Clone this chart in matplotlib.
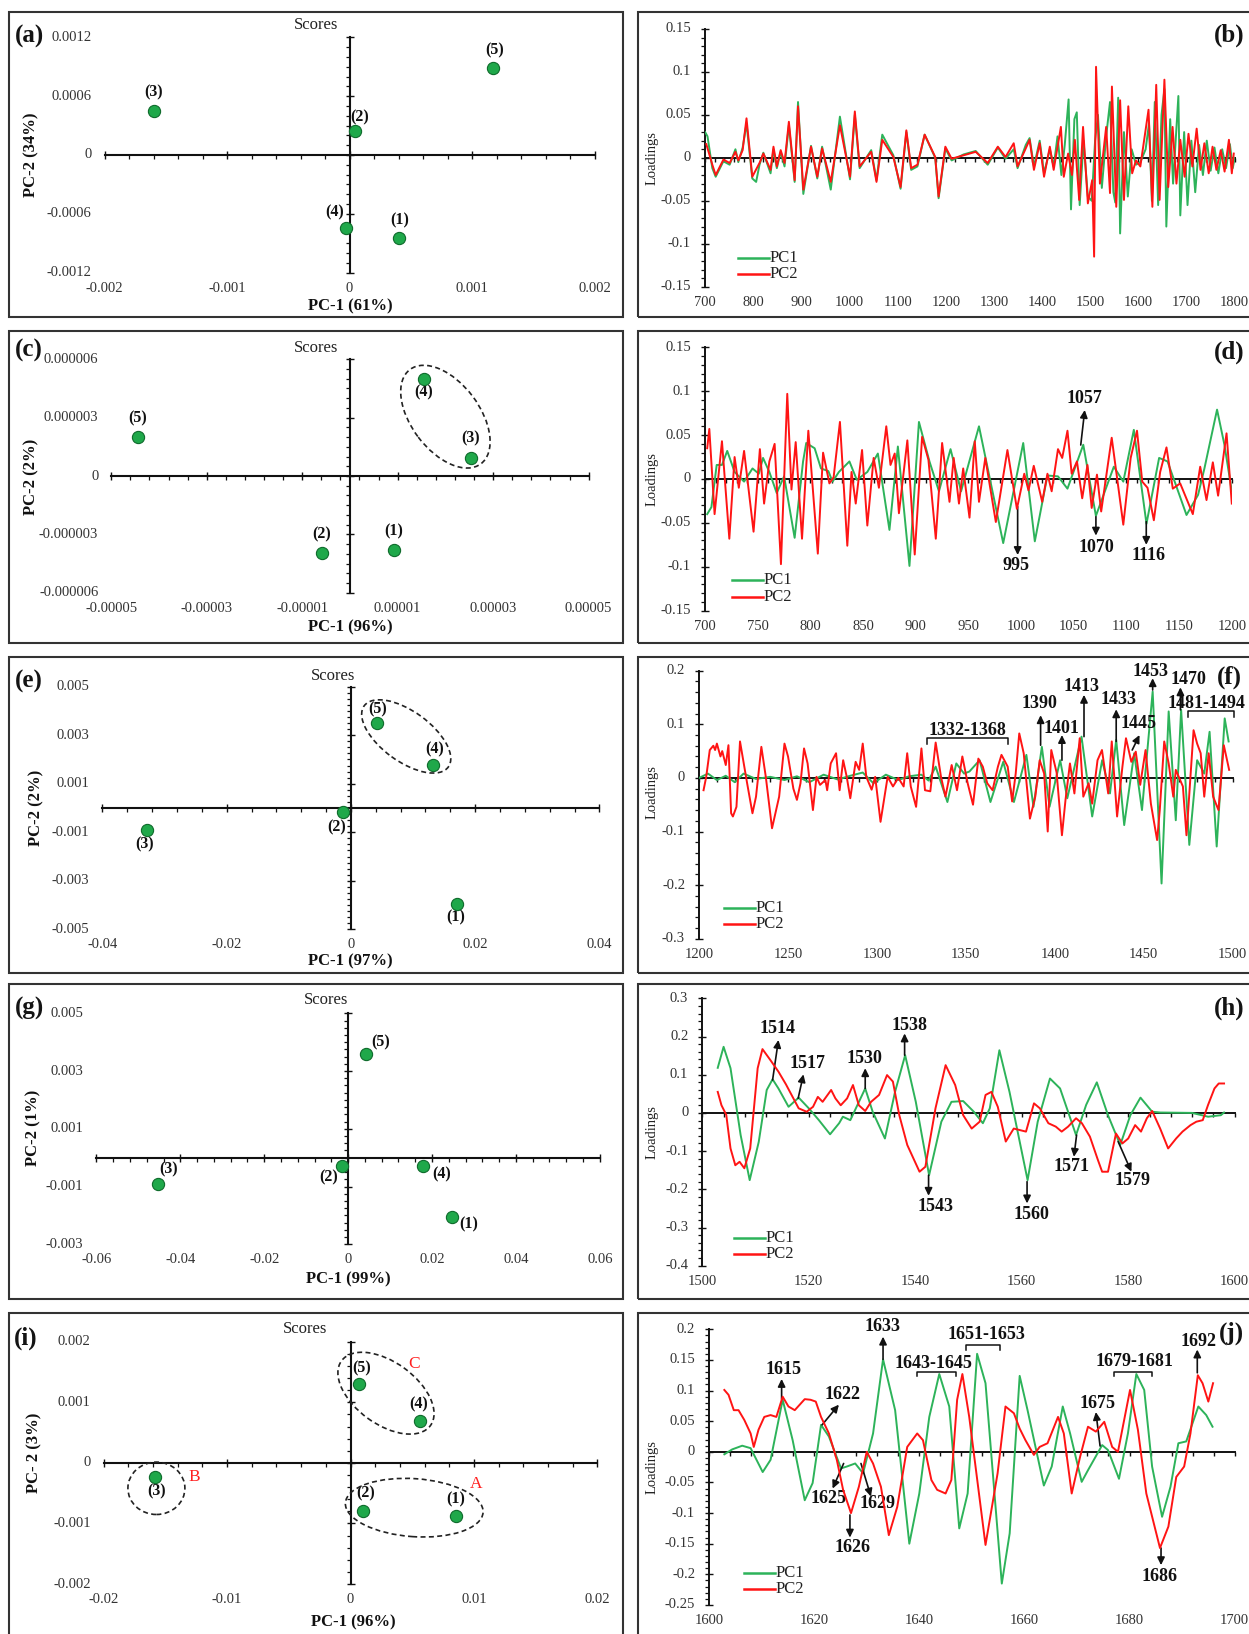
import numpy as np
import matplotlib
matplotlib.use('Agg')
import matplotlib.pyplot as plt
from matplotlib.patches import Ellipse, Rectangle
from matplotlib.lines import Line2D
from matplotlib.ticker import FixedLocator, NullFormatter
import matplotlib.transforms as mtransforms

plt.rcParams['font.family'] = ['Liberation Serif', 'DejaVu Serif']

# ---------------- data ----------------
sample_names = ['(1)', '(2)', '(3)', '(4)', '(5)']

A_x = [0.000407, 0.0000426, -0.0016, -0.000033, 0.001174]
A_y = [-0.000846, 0.000245, 0.000452, -0.000741, 0.000884]
C_x = [0.92e-5, -0.59e-5, 2.54e-5, 1.56e-5, -4.45e-5]
C_y = [-3.82e-6, -3.96e-6, 0.94e-6, 5.0e-6, 2.0e-6]
E_x = [0.01703, -0.00123, -0.0329, 0.01316, 0.00426]
E_y = [-0.00397, -0.000179, -0.000907, 0.00177, 0.00349]
G_x = [0.0248, -0.00144, -0.0454, 0.0178, 0.0042]
G_y = [-0.00206, -0.0003, -0.0009, -0.0003, 0.0036]
I_x = [0.00853, 0.00101, -0.01586, 0.0056, 0.00068]
I_y = [-0.00088, -0.0008, -0.00023, 0.00069, 0.0013]

A_xt = [-0.002, -0.001, 0, 0.001, 0.002]
A_xtl = ['-0.002', '-0.001', '0', '0.001', '0.002']
A_yt = [-0.0012, -0.0006, 0, 0.0006, 0.0012]
A_ytl = ['-0.0012', '-0.0006', '0', '0.0006', '0.0012']
C_xt = [-5e-5, -3e-5, -1e-5, 1e-5, 3e-5, 5e-5]
C_xtl = ['-0.00005', '-0.00003', '-0.00001', '0.00001', '0.00003', '0.00005']
C_yt = [-6e-6, -3e-6, 0, 3e-6, 6e-6]
C_ytl = ['-0.000006', '-0.000003', '0', '0.000003', '0.000006']
E_xt = [-0.04, -0.02, 0, 0.02, 0.04]
E_xtl = ['-0.04', '-0.02', '0', '0.02', '0.04']
E_yt = [-0.005, -0.003, -0.001, 0.001, 0.003, 0.005]
E_ytl = ['-0.005', '-0.003', '-0.001', '0.001', '0.003', '0.005']
G_xt = [-0.06, -0.04, -0.02, 0, 0.02, 0.04, 0.06]
G_xtl = ['-0.06', '-0.04', '-0.02', '0', '0.02', '0.04', '0.06']
G_yt = [-0.003, -0.001, 0.001, 0.003, 0.005]
G_ytl = ['-0.003', '-0.001', '0.001', '0.003', '0.005']
I_xt = [-0.02, -0.01, 0, 0.01, 0.02]
I_xtl = ['-0.02', '-0.01', '0', '0.01', '0.02']
I_yt = [-0.002, -0.001, 0, 0.001, 0.002]
I_ytl = ['-0.002', '-0.001', '0', '0.001', '0.002']

B_PC1 = [(700, 0.030), (705, 0.025), (715, -0.012), (722, -0.022), (738, -0.004), (751, -0.008),
         (763, 0.010), (769, -0.005), (778, 0.012), (786, 0.040), (798, -0.024), (806, -0.028),
         (813, -0.008), (821, 0.006), (836, -0.018), (842, 0.010), (849, -0.012), (857, 0.007),
         (865, -0.010), (874, 0.038), (886, -0.028), (893, 0.065), (904, -0.042), (920, 0.014),
         (933, -0.024), (943, 0.013), (961, -0.037), (980, 0.048), (1001, -0.025), (1011, 0.050),
         (1021, -0.012), (1045, 0.009), (1056, -0.026), (1068, 0.027), (1091, 0.003), (1106, -0.036),
         (1118, 0.030), (1128, -0.014), (1141, -0.010), (1156, 0.027), (1178, 0.000), (1185, -0.047),
         (1199, 0.011), (1212, -0.003), (1237, 0.004), (1262, 0.008), (1287, -0.008), (1308, 0.012),
         (1324, -0.001), (1341, 0.010), (1349, -0.012), (1366, 0.015), (1374, 0.023), (1383, -0.010),
         (1395, 0.020), (1404, -0.018), (1416, 0.010), (1424, -0.010), (1432, 0.025), (1440, -0.020),
         (1447, 0.015), (1455, 0.068), (1460, -0.060), (1467, 0.045), (1472, 0.053), (1478, -0.055),
         (1486, 0.020), (1495, -0.045), (1503, -0.050), (1510, 0.020), (1516, 0.050), (1524, -0.035),
         (1533, 0.025), (1541, 0.065), (1548, -0.040), (1552, -0.052), (1558, 0.070), (1562, -0.088),
         (1570, 0.030), (1578, -0.045), (1586, 0.010), (1595, -0.008), (1604, -0.005), (1615, 0.010),
         (1622, 0.040), (1628, -0.050), (1634, 0.065), (1641, -0.055), (1648, 0.050), (1654, 0.080),
         (1658, -0.080), (1666, 0.045), (1672, -0.030), (1683, 0.072), (1687, -0.067), (1695, 0.030),
         (1702, -0.055), (1710, 0.020), (1718, -0.040), (1726, 0.015), (1734, -0.020), (1742, 0.020),
         (1750, -0.015), (1758, 0.012), (1766, -0.018), (1774, 0.010), (1782, -0.012), (1790, 0.016),
         (1796, -0.012), (1800, 0.000)]
B_PC2 = [(702.5, 0.016), (715, -0.008), (722, -0.020), (738, -0.002), (751, -0.006), (763, 0.007),
         (769, -0.003), (778, 0.009), (786, 0.046), (798, -0.022), (813, -0.006), (821, 0.005),
         (836, -0.014), (842, 0.013), (849, -0.010), (857, 0.009), (865, -0.006), (874, 0.042),
         (886, -0.026), (893, 0.060), (904, -0.037), (920, 0.013), (933, -0.022), (943, 0.011),
         (961, -0.028), (980, 0.038), (1001, -0.022), (1011, 0.054), (1021, -0.010), (1045, 0.007),
         (1056, -0.028), (1068, 0.021), (1091, 0.001), (1106, -0.034), (1118, 0.032), (1128, -0.012),
         (1141, -0.008), (1156, 0.027), (1178, 0.001), (1185, -0.045), (1199, 0.013), (1212, -0.001),
         (1237, 0.003), (1262, 0.007), (1287, -0.006), (1308, 0.013), (1324, 0.001), (1341, 0.017),
         (1349, -0.010), (1366, 0.011), (1374, 0.021), (1383, -0.014), (1395, 0.017), (1404, -0.022),
         (1416, 0.013), (1424, -0.014), (1439, 0.036), (1445, -0.022), (1454, 0.005), (1462, -0.020),
         (1468, 0.021), (1477, -0.049), (1485, 0.036), (1495, -0.053), (1504, -0.026), (1508, -0.115),
         (1512, 0.106), (1520, -0.030), (1533, 0.036), (1541, -0.041), (1545, 0.083), (1554, -0.057),
         (1562, 0.067), (1570, -0.049), (1579, 0.060), (1587, -0.018), (1595, -0.003), (1604, -0.010),
         (1621, 0.056), (1629, -0.057), (1637, 0.085), (1644, -0.049), (1654, 0.091), (1662, -0.034),
         (1671, 0.036), (1679, -0.030), (1687, 0.021), (1696, -0.022), (1704, 0.028), (1712, -0.010),
         (1721, 0.034), (1729, -0.014), (1737, 0.017), (1746, -0.018), (1754, 0.013), (1762, -0.014),
         (1771, 0.009), (1779, -0.016), (1788, 0.021), (1794, -0.018), (1798, 0.005)]

D_PC1 = [(702, -0.040), (706, -0.032), (711, 0.016), (716, 0.016), (721, 0.032), (728, 0.008),
         (737, -0.003), (745, 0.012), (751, 0.006), (755, 0.024), (761, 0.008), (768, -0.016),
         (775, 0.003), (785, -0.067), (793, 0.020), (796, 0.041), (804, 0.035), (810, 0.012),
         (817, 0.009), (821, -0.003), (827, 0.008), (837, 0.020), (844, -0.001), (854, 0.008),
         (864, 0.029), (875, -0.058), (883, 0.037), (894, -0.099), (903, 0.065), (913, 0.020),
         (922, -0.014), (933, 0.034), (943, -0.014), (960, 0.060), (983, -0.073), (1002, 0.041),
         (1013, -0.071), (1025, 0.004), (1035, 0.003), (1044, -0.011), (1059, 0.039), (1071, -0.042),
         (1088, 0.014), (1097, -0.003), (1107, 0.056), (1119, -0.051), (1131, 0.024), (1139, 0.020),
         (1157, -0.041), (1168, -0.018), (1174, 0.012), (1186, 0.079), (1193, 0.039), (1200, -0.014)]
D_PC2 = [(702, 0.035), (704, 0.057), (709, -0.040), (716, 0.043), (723, -0.068), (728, 0.025),
         (732, -0.010), (737, 0.032), (746, -0.060), (752, 0.034), (756, -0.028), (761, 0.020),
         (766, 0.040), (772, -0.097), (778, 0.097), (782, -0.012), (786, 0.042), (792, -0.068),
         (798, 0.055), (807, -0.085), (812, 0.030), (818, -0.005), (822, 0.002), (828, 0.065),
         (835, -0.076), (839, 0.008), (843, -0.028), (849, 0.033), (854, -0.053), (860, 0.024),
         (865, -0.010), (872, 0.060), (876, 0.016), (880, 0.029), (884, -0.039), (892, 0.044),
         (899, -0.086), (906, 0.048), (912, 0.022), (919, -0.068), (925, 0.041), (932, -0.026),
         (936, 0.024), (941, -0.028), (945, 0.012), (951, -0.044), (956, 0.043), (960, -0.026),
         (966, 0.024), (976, -0.049), (987, 0.033), (996, -0.034), (1003, 0.006), (1007, -0.013),
         (1012, 0.015), (1020, -0.026), (1025, 0.006), (1029, -0.014), (1035, 0.034), (1039, 0.024),
         (1044, 0.055), (1048, 0.006), (1053, 0.020), (1058, -0.022), (1063, 0.016), (1067, -0.033),
         (1072, 0.005), (1076, -0.037), (1086, 0.047), (1097, -0.052), (1104, 0.024), (1110, 0.055),
         (1115, -0.003), (1120, -0.010), (1126, -0.047), (1132, 0.008), (1138, 0.036), (1144, -0.011),
         (1151, -0.005), (1163, -0.040), (1170, 0.014), (1176, -0.024), (1182, 0.019), (1187, -0.019),
         (1195, 0.052), (1200, -0.028)]

F_PC1 = [(1200, 0.000), (1205, 0.008), (1210, -0.004), (1215, 0.004), (1220, -0.008), (1225, 0.008),
         (1232, -0.002), (1240, 0.002), (1248, -0.004), (1255, 0.003), (1262, -0.008), (1270, 0.006),
         (1278, -0.003), (1285, 0.004), (1292, 0.010), (1298, -0.010), (1305, 0.006), (1312, -0.004),
         (1318, 0.003), (1325, 0.006), (1329, -0.005), (1333, 0.021), (1339.6, -0.045), (1344.6, 0.027),
         (1349, 0.008), (1352, 0.012), (1357.7, 0.033), (1363.8, -0.045), (1371, 0.030), (1377, -0.045),
         (1384, 0.043), (1388, -0.054), (1392.7, 0.058), (1397, -0.054), (1403, 0.033), (1407, -0.038),
         (1415, 0.077), (1421, -0.072), (1426.6, 0.033), (1431, -0.029), (1434.5, 0.071), (1439, -0.088),
         (1444.6, 0.046), (1449, -0.060), (1455, 0.161), (1460, -0.197), (1464, 0.124), (1468, -0.079),
         (1471, 0.127), (1475.6, -0.125), (1480, 0.033), (1484, 0.008), (1487, 0.086), (1491, -0.128),
         (1495.5, 0.111), (1497.7, 0.068)]
F_PC2 = [(1202.5, -0.023), (1204, 0.002), (1206, 0.052), (1208, 0.060), (1209, 0.052), (1210, 0.064),
         (1212, 0.040), (1213, 0.050), (1215, 0.024), (1216.5, 0.061), (1218, -0.066), (1219, -0.072),
         (1221, -0.054), (1223, 0.068), (1227, -0.010), (1230, -0.066), (1232, -0.035), (1235, 0.058),
         (1237.5, 0.002), (1241, -0.094), (1245, -0.035), (1248, 0.064), (1250, 0.040), (1253, -0.020),
         (1255, -0.041), (1257, -0.010), (1259, 0.055), (1261, 0.027), (1264, -0.060), (1266, 0.002),
         (1268, -0.013), (1271, -0.004), (1272, -0.023), (1274, 0.027), (1277, 0.046), (1279, -0.023),
         (1281, 0.033), (1283, 0.002), (1285, -0.038), (1288, 0.030), (1290, 0.015), (1292, 0.064),
         (1294, 0.002), (1297, -0.022), (1299, 0.002), (1302, -0.082), (1306, 0.002), (1309, -0.016),
         (1312, 0.000), (1315, -0.016), (1317, 0.046), (1319, -0.016), (1322, -0.054), (1325, 0.055),
         (1327, -0.023), (1330, -0.025), (1333, 0.066), (1336, 0.002), (1338.5, -0.035), (1342, 0.024),
         (1345, -0.023), (1348, 0.040), (1351, -0.010), (1354, -0.050), (1357, 0.036), (1359.5, 0.021),
         (1362, -0.010), (1365, -0.023), (1368, 0.021), (1370, 0.043), (1373.5, 0.021), (1376, -0.044),
         (1378, 0.008), (1380, 0.083), (1382.5, 0.046), (1386, -0.076), (1389, -0.035), (1391.5, 0.033),
         (1394, 0.008), (1396, -0.100), (1398, 0.052), (1401, 0.010), (1404, -0.107), (1406, -0.041),
         (1408.5, 0.027), (1411, -0.029), (1414, 0.074), (1416, -0.035), (1419, -0.010), (1421, -0.048),
         (1424, 0.033), (1426.5, 0.052), (1430, -0.029), (1432, 0.068), (1435, -0.072), (1438, 0.021),
         (1440, 0.074), (1443, 0.030), (1445.5, 0.049), (1448, -0.013), (1451, 0.052), (1454, -0.048),
         (1457.5, -0.116), (1459, -0.060), (1461.5, 0.068), (1464, 0.027), (1466.6, -0.035), (1468, 0.015),
         (1472, -0.016), (1474, -0.107), (1475, -0.060), (1478, 0.089), (1480, 0.064), (1482, 0.046),
         (1484, -0.035), (1486.5, 0.046), (1489, -0.035), (1492, -0.060), (1495, 0.061), (1498, 0.015)]

H_PC1 = [(1502.9, 0.118), (1504, 0.173), (1505.3, 0.117), (1507.2, -0.058), (1508.9, -0.176),
         (1510.6, -0.076), (1512.1, 0.060), (1513.2, 0.088), (1514.3, 0.064), (1516.2, 0.016),
         (1518.1, 0.040), (1520, 0.012), (1521.9, -0.019), (1524, -0.056), (1525.7, -0.027),
         (1526.4, -0.010), (1527.8, -0.019), (1530.6, 0.064), (1532, 0.003), (1534.3, -0.067),
         (1536.2, 0.055), (1538.1, 0.151), (1540.1, 0.029), (1542.6, -0.163), (1544.9, -0.023),
         (1546.8, 0.029), (1549, 0.031), (1551, 0.003), (1552.7, -0.027), (1554, 0.012),
         (1555.8, 0.164), (1557.7, 0.055), (1561.1, -0.176), (1563, -0.023), (1565.3, 0.090),
         (1567.2, 0.064), (1570.2, -0.058), (1572.1, 0.021), (1574.1, 0.080), (1576.2, -0.006),
         (1578.5, -0.084), (1580.4, -0.006), (1582.3, 0.040), (1584.5, 0.003), (1586, 0.001),
         (1592, 0.000), (1595, -0.010), (1597.4, -0.006), (1598, 0.001)]
H_PC2 = [(1502.9, 0.055), (1503.6, 0.020), (1504.5, -0.005), (1505.3, -0.093), (1506.2, -0.137),
         (1507, -0.128), (1507.9, -0.145), (1509, -0.093), (1510.4, 0.117), (1511.3, 0.167),
         (1512.8, 0.138), (1514.3, 0.108), (1515.7, 0.075), (1518.1, 0.012), (1519.6, 0.003),
         (1520.8, 0.016), (1521.7, 0.042), (1522.6, 0.029), (1524.2, 0.060), (1525, 0.038),
         (1526, 0.020), (1527.2, 0.038), (1528.3, 0.073), (1529.4, 0.020), (1530.6, 0.005),
         (1531.7, 0.029), (1533.2, 0.047), (1534.7, 0.099), (1535.8, 0.082), (1537, -0.006),
         (1538.5, -0.084), (1540.8, -0.154), (1541.9, -0.141), (1543.8, 0.012), (1545.7, 0.125),
         (1547.5, 0.073), (1549, -0.006), (1550.6, -0.041), (1552.1, -0.023), (1553.2, 0.047),
         (1554.3, 0.055), (1555.5, 0.016), (1557, -0.075), (1558.5, -0.041), (1560.8, -0.049),
         (1562.3, 0.025), (1563.4, 0.012), (1565, -0.027), (1566.4, -0.036), (1567.5, -0.049),
         (1568.7, -0.036), (1570.2, -0.014), (1571.3, -0.027), (1572.8, -0.062), (1574.3, -0.123),
         (1575.1, -0.154), (1576.2, -0.154), (1577.7, -0.054), (1578.9, -0.080), (1580, -0.067),
         (1581.3, -0.032), (1582.4, -0.049), (1583.5, -0.014), (1584.5, 0.005), (1586, -0.041),
         (1587.5, -0.093), (1589, -0.067), (1590.2, -0.049), (1591.7, -0.032), (1592.8, -0.023),
         (1594, -0.019), (1595, 0.021), (1596.2, 0.064), (1597, 0.077), (1598, 0.077)]

J_PC1 = [(1602.9, -0.004), (1604.4, 0.004), (1606.3, 0.010), (1607.9, 0.006), (1610.2, -0.033),
         (1611.7, -0.013), (1614, 0.085), (1615.9, 0.019), (1618.2, -0.079), (1619.7, -0.051),
         (1621.3, 0.044), (1622.8, 0.025), (1625.1, -0.027), (1626.2, -0.024), (1627.8, -0.019),
         (1629.3, -0.035), (1631.2, 0.030), (1633.1, 0.151), (1635.4, 0.068), (1638.1, -0.150),
         (1640, -0.068), (1641.9, 0.057), (1643.8, 0.127), (1645.7, 0.074), (1647.6, -0.125),
         (1649.2, -0.068), (1651, 0.160), (1652.6, 0.112), (1655.7, -0.215), (1657.2, -0.133),
         (1659.1, 0.124), (1660.6, 0.068), (1663.7, -0.055), (1665.2, -0.024), (1667.3, 0.074),
         (1668.7, 0.030), (1670.9, -0.049), (1672.1, -0.030), (1674.8, 0.011), (1675.9, 0.003),
         (1678, -0.044), (1679.7, 0.030), (1681.3, 0.127), (1682.8, 0.101), (1684.3, -0.024),
         (1686.2, -0.106), (1687.8, -0.057), (1689.3, 0.014), (1690.8, 0.017), (1693.1, 0.074),
         (1694.6, 0.060), (1695.8, 0.041)]
J_PC2 = [(1602.9, 0.101), (1603.7, 0.093), (1604.7, 0.068), (1605.6, 0.068), (1606.7, 0.052),
         (1607.9, 0.030), (1608.5, 0.008), (1609.4, 0.036), (1610.5, 0.057), (1611.7, 0.060),
         (1612.8, 0.057), (1614, 0.090), (1615.1, 0.074), (1616.3, 0.068), (1618.2, 0.086),
         (1619.3, 0.085), (1620.3, 0.082), (1621.3, 0.057), (1622.8, 0.030), (1624.3, -0.013),
         (1625.5, -0.062), (1627, -0.100), (1628.5, -0.057), (1630, 0.000), (1631.2, -0.019),
         (1632.7, -0.057), (1634.2, -0.136), (1635.8, -0.090), (1637.7, 0.008), (1639.6, 0.030),
         (1640.7, 0.019), (1642.3, -0.046), (1643.4, -0.062), (1645, -0.068), (1646.1, -0.046),
         (1647.2, 0.085), (1648.2, 0.127), (1649.5, 0.057), (1652.6, -0.152), (1654.9, -0.035),
         (1656.4, 0.074), (1658, 0.063), (1659.1, 0.038), (1660.2, 0.019), (1661.8, -0.005),
         (1662.9, 0.008), (1664.4, 0.014), (1666.4, 0.057), (1667.5, 0.030), (1669, -0.068),
         (1670.6, -0.008), (1672.1, 0.041), (1673.6, 0.033), (1675.2, 0.049), (1676.7, 0.008),
         (1677.8, 0.000), (1680.1, 0.101), (1681.6, 0.036), (1683.2, -0.068), (1685.8, -0.157),
         (1687.4, -0.122), (1688.9, -0.041), (1690.4, -0.024), (1691.6, 0.030), (1693, 0.125),
         (1693.9, 0.112), (1695, 0.082), (1695.9, 0.112)]

# peak annotations: (label, arrow tail, arrow head, text position)
D_NOTES = [('1057', (1056.6, 0.0387), (1060.4, 0.0786), (1060.4, 0.092)),
           ('995', (996.7, -0.0315), (996.7, -0.0866), (994.8, -0.098)),
           ('1070', (1071, -0.043), (1071, -0.0645), (1071, -0.078)),
           ('1116', (1118.8, -0.0486), (1118.8, -0.075), (1120.7, -0.087))]
F_NOTES = [('1390', (1392, 0.061), (1392, 0.117), (1391.6, 0.139)),
           ('1401', (1404, 0.033), (1404, 0.080), (1404, 0.092)),
           ('1413', (1416.4, 0.077), (1416.4, 0.155), (1415, 0.170)),
           ('1433', (1434.5, 0.068), (1434.5, 0.128), (1435.6, 0.146)),
           ('1445', (1443.5, 0.052), (1447.6, 0.080), (1447, 0.102)),
           ('1453', (1455, 0.164), (1455, 0.186), (1454, 0.198)),
           ('1470', (1470.6, 0.127), (1470.6, 0.169), (1475, 0.184))]
H_NOTES = [('1514', (1513.2, 0.086), (1514.3, 0.191), (1514.2, 0.220)),
           ('1517', (1518, 0.038), (1519, 0.101), (1519.8, 0.130)),
           ('1530', (1530.6, 0.064), (1530.6, 0.117), (1530.4, 0.143)),
           ('1538', (1538, 0.151), (1538, 0.208), (1538.9, 0.230)),
           ('1543', (1542.5, -0.163), (1542.5, -0.217), (1543.8, -0.245)),
           ('1560', (1561, -0.180), (1561, -0.237), (1561.9, -0.266)),
           ('1571', (1570.3, -0.058), (1569.8, -0.115), (1569.4, -0.140)),
           ('1579', (1578.1, -0.075), (1580.6, -0.154), (1580.8, -0.178))]
J_NOTES = [('1615', (1613.8, 0.086), (1613.8, 0.119), (1614.2, 0.134)),
           ('1622', (1621.5, 0.044), (1624.7, 0.077), (1625.3, 0.094)),
           ('1625', (1625.6, -0.019), (1623.5, -0.060), (1622.8, -0.076)),
           ('1626', (1626.8, -0.103), (1626.8, -0.140), (1627.2, -0.156)),
           ('1629', (1628.9, -0.019), (1630.8, -0.073), (1632, -0.085)),
           ('1633', (1633.1, 0.151), (1633.1, 0.188), (1633, 0.204)),
           ('1675', (1674.4, 0.0095), (1673.6, 0.065), (1674, 0.079)),
           ('1686', (1686, -0.157), (1686, -0.185), (1685.7, -0.204)),
           ('1692', (1692.9, 0.129), (1692.9, 0.167), (1693.1, 0.180))]
# brackets: (label, x start, x end, y bar, y tips, text x, text y)
F_BRACKETS = [('1332-1368', 1327.9, 1373.5, 0.074, 0.063, 1351, 0.089),
              ('1481-1494', 1475, 1501, 0.124, 0.114, 1485, 0.139)]
J_BRACKETS = [('1643-1645', 1639.6, 1646.9, 0.131, 0.123, 1642.7, 0.144),
              ('1651-1653', 1648.8, 1655.3, 0.174, 0.166, 1652.8, 0.191),
              ('1679-1681', 1677, 1684.3, 0.131, 0.123, 1680.9, 0.147)]

# ---------------- figure ----------------
W, H = 1249, 1634
DPI = 100
PT = 72.0 / DPI
fig = plt.figure(figsize=(W / DPI, H / DPI), dpi=DPI)
fig.patch.set_facecolor('white')

GREEN = '#2db35a'
RED = '#ff1414'
TXT = '#111111'
TICKC = '#333333'


def fx(x):
    return x / W


def fy(y):
    return 1 - y / H


def add_box(x0, y0, x1, y1):
    fig.add_artist(Rectangle((fx(x0), fy(y1)), (x1 - x0) / W, (y1 - y0) / H,
                             transform=fig.transFigure, fill=False, ec='#333333', lw=1.5))


def make_axes(box):
    x0, x1, y0, y1 = box
    ax = fig.add_axes([x0 / W, 1 - y1 / H, (x1 - x0) / W, (y1 - y0) / H])
    ax.patch.set_alpha(0)
    for s in ('top', 'right'):
        ax.spines[s].set_visible(False)
    return ax


def set_ticks(ax, xt, yt, xminor, yminor):
    ax.xaxis.set_major_locator(FixedLocator(xt))
    ax.yaxis.set_major_locator(FixedLocator(yt))
    ax.xaxis.set_minor_locator(FixedLocator(xminor))
    ax.yaxis.set_minor_locator(FixedLocator(yminor))
    for a in (ax.xaxis, ax.yaxis):
        a.set_major_formatter(NullFormatter())
        a.set_minor_formatter(NullFormatter())
        a.get_offset_text().set_visible(False)
    ax.tick_params(which='major', direction='inout', length=6, width=1.0, color=TXT)
    ax.tick_params(which='minor', direction='out', length=3, width=0.9, color=TXT)
    ax.tick_params(labelbottom=False, labelleft=False)


def tick_labels(ax, xt, xtl, yt, ytl, dx=13, dy=15.5, fs=10.5):
    for v, l in zip(xt, xtl):
        ax.annotate(l, xy=(v, 0), xycoords=ax.get_xaxis_transform(), xytext=(0, -dy * PT),
                    textcoords='offset points', ha='center', va='center', fontsize=fs,
                    color=TICKC, annotation_clip=False)
    for v, l in zip(yt, ytl):
        ax.annotate(l, xy=(0, v), xycoords=ax.get_yaxis_transform(), xytext=(-dx * PT, 0),
                    textcoords='offset points', ha='right', va='center', fontsize=fs,
                    color=TICKC, annotation_clip=False)


def steps(lo, hi, st):
    n = int(round((hi - lo) / st))
    return [lo + i * st for i in range(n + 1)]


def scores_panel(box, xlim, ylim, xt, xtl, yt, ytl, xst, yst, xs, ys, offs):
    ax = make_axes(box)
    ax.set_xlim(xlim)
    ax.set_ylim(ylim)
    ax.spines['left'].set_position(('data', 0))
    ax.spines['bottom'].set_position(('data', 0))
    for s in ('left', 'bottom'):
        ax.spines[s].set_linewidth(1.5)
        ax.spines[s].set_color(TXT)
    set_ticks(ax, xt, yt, steps(xlim[0], xlim[1], xst), steps(ylim[0], ylim[1], yst))
    tick_labels(ax, xt, xtl, yt, ytl)
    ax.plot(xs, ys, 'o', ms=8.8, mfc='#1fa84a', mec='#0f6b2c', mew=0.8, zorder=5, clip_on=False)
    for x, y, n, (dx, dy) in zip(xs, ys, sample_names, offs):
        ax.annotate(n, xy=(x, y), xytext=(dx * PT, -dy * PT), textcoords='offset points',
                    ha='center', va='center', fontsize=11.5, fontweight='bold', color=TXT,
                    annotation_clip=False)
    return ax


def dashed_ellipse(ax, cx, cy, a_px, b_px, ang):
    tr = fig.dpi_scale_trans + mtransforms.ScaledTranslation(cx, cy, ax.transData)
    e = Ellipse((0, 0), 2 * a_px / DPI, 2 * b_px / DPI, angle=ang, transform=tr,
                fill=False, ec='#222222', lw=1.2, ls=(0, (3, 2)), clip_on=False)
    fig.add_artist(e)


def loading_panel(box, xlim, ylim, xt, xtl, yt, ytl, xst, yst, pc1, pc2, leg):
    ax = make_axes(box)
    ax.set_xlim(xlim)
    ax.set_ylim(ylim)
    ax.spines['bottom'].set_position(('data', 0))
    for s in ('left', 'bottom'):
        ax.spines[s].set_linewidth(1.4)
        ax.spines[s].set_color(TXT)
    set_ticks(ax, xt, yt, steps(xlim[0], xlim[1], xst), steps(ylim[0], ylim[1], yst))
    ax.tick_params(axis='x', which='both', direction='out', length=3, width=1.0)
    tick_labels(ax, xt, xtl, yt, ytl, dx=14, dy=16)
    x1, y1 = zip(*pc1)
    x2, y2 = zip(*pc2)
    ax.plot(x1, y1, color=GREEN, lw=1.4, zorder=3, solid_joinstyle='round')
    ax.plot(x2, y2, color=RED, lw=1.4, zorder=4, solid_joinstyle='round')
    lx0, lx1, ly1, ly2 = leg
    for yy, col, name in ((ly1, GREEN, 'PC1'), (ly2, RED, 'PC2')):
        fig.add_artist(Line2D([fx(lx0), fx(lx1)], [fy(yy), fy(yy)], color=col, lw=1.8,
                              transform=fig.transFigure))
        fig.text(fx(lx1 + 1), fy(yy), name, ha='left', va='center', fontsize=12, color='#222222')
    return ax


def notes(ax, items):
    for lab, tail, head, tpos in items:
        ax.annotate('', xy=head, xytext=tail,
                    arrowprops=dict(arrowstyle='-|>,head_length=0.45,head_width=0.22',
                                    color=TXT, lw=1.2, shrinkA=0, shrinkB=0),
                    annotation_clip=False)
        ax.text(tpos[0], tpos[1], lab, ha='center', va='center', fontsize=13,
                fontweight='bold', color=TXT, clip_on=False)


def brackets(ax, items):
    for lab, xa, xb, yb, yt_, tx, ty in items:
        ax.plot([xa, xa, xb, xb], [yt_, yb, yb, yt_], color=TXT, lw=1.1, clip_on=False, zorder=6)
        ax.text(tx, ty, lab, ha='center', va='center', fontsize=13, fontweight='bold',
                color=TXT, clip_on=False)


# frames
rows = [(11.7, 316.7), (331, 643.3), (657.3, 972.7), (984.3, 1299), (1312.5, 1640)]
for (t, b) in rows:
    add_box(8.8, t, 622.7, b)
    add_box(638.3, t, 1262, b)

# ---- score panels ----
axA = scores_panel((104.5, 594.6, 37.3, 272.7), (-0.002, 0.002), (-0.0012, 0.0012),
                   A_xt, A_xtl, A_yt, A_ytl, 0.0002, 0.0001, A_x, A_y,
                   [(0, -17.3), (5, -14), (0, -18), (-11, -15), (1, -17.7)])
axC = scores_panel((111.3, 588.6, 359.3, 592.7), (-5e-5, 5e-5), (-6e-6, 6e-6),
                   C_xt, C_xtl, C_yt, C_ytl, 4e-6, 5e-7, C_x, C_y,
                   [(0, -18.7), (0, -18.7), (-1, -19), (-1, 13.3), (0, -18.7)])
dashed_ellipse(axC, 2.0e-5, 3.05e-6, 59, 34, -53)
axE = scores_panel((102.5, 599.4, 686.7, 929.3), (-0.04, 0.04), (-0.005, 0.005),
                   E_xt, E_xtl, E_yt, E_ytl, 0.004, 0.00025, E_x, E_y,
                   [(-1, 13), (-7, 15), (-2, 14), (1.6, -16), (0, -14.3)])
dashed_ellipse(axE, 0.0089, 0.00295, 52, 25, -36)
axG = scores_panel((96.4, 599.8, 1013.3, 1244.3), (-0.06, 0.06), (-0.003, 0.005),
                   G_xt, G_xtl, G_yt, G_ytl, 0.004, 0.00025, G_x, G_y,
                   [(17, 7), (-13, 10.7), (11, -14), (18.5, 8.3), (15, -11)])
axI = scores_panel((103.7, 597.4, 1341.7, 1584), (-0.02, 0.02), (-0.002, 0.002),
                   I_xt, I_xtl, I_yt, I_ytl, 0.002, 0.0002, I_x, I_y,
                   [(0, -17), (3, -18), (2, 15), (-1, -17), (3, -16)])
dashed_ellipse(axI, 0.00287, 0.00115, 55, 31, -36)
dashed_ellipse(axI, 0.00516, -0.00074, 69, 29, -4)
dashed_ellipse(axI, -0.01573, -0.00042, 28.5, 26.2, 0)
for lab, x, y in (('C', 0.00515, 0.00164), ('A', 0.0102, -0.000357), ('B', -0.0127, -0.00023)):
    axI.text(x, y, lab, ha='center', va='center', fontsize=12.5, color='#ff2020')

score_titles = [(316, 25), (316, 347.7), (333.5, 676), (326, 1000), (305, 1329)]
for (x, y) in score_titles:
    fig.text(fx(x), fy(y), 'Scores', ha='center', va='center', fontsize=12, color='#222222')

xlabels = [('PC-1 (61%)', 350, 306), ('PC-1 (96%)', 350.3, 627.7), ('PC-1 (97%)', 350.3, 961.7),
           ('PC-1 (99%)', 348, 1279), ('PC-1 (96%)', 353.6, 1622.7)]
ylabels = [('PC-2 (34%)', 31.3, 155), ('PC-2 (2%)', 31.3, 476.7), ('PC-2 (2%)', 36.2, 808.3),
           ('PC-2 (1%)', 33, 1128), ('PC- 2 (3%)', 34, 1453)]
for s, x, y in xlabels:
    fig.text(fx(x), fy(y), s, ha='center', va='center', fontsize=12, fontweight='bold', color=TXT)
for s, x, y in ylabels:
    fig.text(fx(x), fy(y), s, ha='center', va='center', fontsize=12, fontweight='bold',
             color=TXT, rotation=90)

# ---- loading panels ----
y15 = [-0.15, -0.1, -0.05, 0, 0.05, 0.1, 0.15]
y15l = ['-0.15', '-0.1', '-0.05', '0', '0.05', '0.1', '0.15']
B_xt = list(range(700, 1801, 100))
D_xt = list(range(700, 1201, 50))
F_xt = list(range(1200, 1501, 50))
H_xt = list(range(1500, 1601, 20))
J_xt = list(range(1600, 1701, 20))
F_yt = [-0.3, -0.2, -0.1, 0, 0.1, 0.2]
F_ytl = ['-0.3', '-0.2', '-0.1', '0', '0.1', '0.2']
H_yt = [-0.4, -0.3, -0.2, -0.1, 0, 0.1, 0.2, 0.3]
H_ytl = ['-0.4', '-0.3', '-0.2', '-0.1', '0', '0.1', '0.2', '0.3']
J_yt = [-0.25, -0.2, -0.15, -0.1, -0.05, 0, 0.05, 0.1, 0.15, 0.2]
J_ytl = ['-0.25', '-0.2', '-0.15', '-0.1', '-0.05', '0', '0.05', '0.1', '0.15', '0.2']

axB = loading_panel((705.1, 1234.7, 29, 286.7), (700, 1800), (-0.15, 0.15), B_xt,
                    [str(v) for v in B_xt], y15, y15l, 20, 0.01, B_PC1, B_PC2,
                    (737.7, 768.6, 257.7, 274.3))
axD = loading_panel((705.1, 1231.8, 347.3, 610.7), (700, 1200), (-0.15, 0.15), D_xt,
                    [str(v) for v in D_xt], y15, y15l, 10, 0.01, D_PC1, D_PC2,
                    (732.4, 762.6, 580, 596.7))
notes(axD, D_NOTES)
axF = loading_panel((699.1, 1232.7, 670.7, 938.7), (1200, 1500), (-0.3, 0.2), F_xt,
                    [str(v) for v in F_xt], F_yt, F_ytl, 10, 0.02, F_PC1, F_PC2,
                    (723.6, 754.5, 907.7, 924.3))
notes(axF, F_NOTES)
brackets(axF, F_BRACKETS)
axH = loading_panel((702.3, 1234.7, 998.3, 1265.7), (1500, 1600), (-0.4, 0.3), H_xt,
                    [str(v) for v in H_xt], H_yt, H_ytl, 4, 0.02, H_PC1, H_PC2,
                    (733.7, 764.6, 1237.7, 1254.3))
notes(axH, H_NOTES)
axJ = loading_panel((709.1, 1234.6, 1329.3, 1605), (1600, 1700), (-0.25, 0.2), J_xt,
                    [str(v) for v in J_xt], J_yt, J_ytl, 4, 0.01, J_PC1, J_PC2,
                    (743.7, 774.6, 1572.7, 1589.3))
notes(axJ, J_NOTES)
brackets(axJ, J_BRACKETS)

for y in (157.7, 479, 791.7, 1131.7, 1466.7):
    fig.text(fx(652), fy(y), 'Loadings', ha='center', va='center', fontsize=10.5,
             color='#222222', rotation=90)

# panel letters
letters = [('(a)', 29, 36), ('(c)', 29, 350), ('(e)', 29, 681.7), ('(g)', 30, 1008), ('(i)', 26, 1338),
           ('(b)', 1229, 35), ('(d)', 1229, 352), ('(f)', 1229, 677), ('(h)', 1229, 1008),
           ('(j)', 1231, 1333)]
for s, x, y in letters:
    fig.text(fx(x), fy(y), s, ha='center', va='center', fontsize=18, fontweight='bold',
             color='#141414')

fig.savefig('out.png', dpi=DPI, facecolor='white')
